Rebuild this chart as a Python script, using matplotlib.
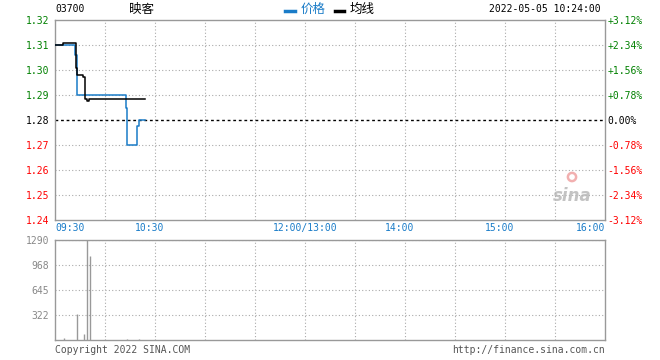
#Intraday minute chart for 03700 (映客), price + average line on top, volume below
import matplotlib
matplotlib.use('Agg')
import matplotlib.pyplot as plt
from matplotlib.lines import Line2D

plt.rcParams['font.family'] = ['DejaVu Sans Mono', 'Noto Sans CJK SC']

#Time in minutes since 09:30 with the lunch break cut out (330 minutes in a day)
price_t = [0, 12, 13, 42.6, 43.4, 49.4, 50.6, 54]
price_v = [1.31, 1.306, 1.29, 1.285, 1.27, 1.2775, 1.28, 1.28]
avg_t = [0, 4.6, 12.6, 13.4, 16.6, 18.2, 19.4, 20.6, 54]
avg_v = [1.31, 1.311, 1.301, 1.298, 1.2972, 1.2883, 1.2878, 1.2886, 1.2886]
vol_t = [5.6, 13.4, 17.6, 19.4, 21.2, 43.4, 50.6]
vol_v = [30, 340, 80, 1290, 1090, 12, 12]

prev_close = 1.28
price_ticks = [1.32, 1.31, 1.30, 1.29, 1.28, 1.27, 1.26, 1.25, 1.24]
pct_labels = ['+3.12%', '+2.34%', '+1.56%', '+0.78%', '0.00%',
              '-0.78%', '-1.56%', '-2.34%', '-3.12%']
vol_ticks = [1290, 968, 645, 322]
time_labels = ['09:30', '10:30', '12:00/13:00', '14:00', '15:00', '16:00']
time_pos = [0, 60, 150, 210, 270, 330]

blue = '#1a7cc8'
green = '#008000'
red = '#ff0000'
gridc = '#aaaaaa'
border = '#999999'
W, H = 660, 360

def frac(x0, y0, w, h):
    #pixel box (top-left origin) to figure fraction
    return [x0 / W, 1 - (y0 + h) / H, w / W, h / H]

fig = plt.figure(figsize=(6.6, 3.6), dpi=100)
ax1 = fig.add_axes(frac(55, 20, 550, 200))
ax2 = fig.add_axes(frac(55, 240, 550, 100))

for ax in (ax1, ax2):
    ax.set_xlim(0, 330)
    for s in ax.spines.values():
        s.set_color(border)
        s.set_linewidth(1)
    ax.set_xticks(range(30, 330, 30))
    ax.set_xticklabels([])
    ax.tick_params(length=0, labelsize=7)
    ax.grid(axis='x', color=gridc, linestyle=(0, (1, 2)), lw=0.8)

#Price panel
ax1.set_ylim(1.24, 1.32)
ax1.set_yticks(price_ticks)
ax1.set_yticklabels(['%.2f' % p for p in price_ticks])
ax1.tick_params(axis='y', pad=4)
for p in price_ticks[1:-1]:
    if p != prev_close:
        ax1.axhline(p, color=gridc, linestyle=(0, (1, 2)), lw=0.8)
ax1.axhline(prev_close, color='black', linestyle=(0, (2, 2)), lw=1)

def col(p):
    if p > prev_close + 1e-9:
        return green
    if p < prev_close - 1e-9:
        return red
    return 'black'

for lbl, p in zip(ax1.get_yticklabels(), price_ticks):
    lbl.set_color(col(p))

axr = ax1.twinx()
axr.set_ylim(1.24, 1.32)
axr.set_yticks(price_ticks)
axr.set_yticklabels(pct_labels)
axr.tick_params(length=0, labelsize=7, pad=2)
for s in axr.spines.values():
    s.set_visible(False)
for lbl, p in zip(axr.get_yticklabels(), price_ticks):
    lbl.set_color(col(p))

ax1.plot(price_t, price_v, drawstyle='steps-post', color=blue, lw=1.1, zorder=3)
ax1.plot(avg_t, avg_v, drawstyle='steps-post', color='black', lw=1.1, zorder=4)

#Time labels under the price panel
offs = [0, -5, 0, -5, -5, 0]
has = ['left', 'center', 'center', 'center', 'center', 'right']
for t, lbl, dx, ha in zip(time_pos, time_labels, offs, has):
    ax1.annotate(lbl, xy=(t, 0), xycoords=('data', 'axes fraction'),
                 xytext=(dx, -8), textcoords='offset pixels',
                 ha=ha, va='center', color=blue, fontsize=7)

#sina watermark
ax1.text(0.975, 0.12, 'sina', transform=ax1.transAxes, ha='right', va='center',
         fontsize=12, fontweight='bold', style='italic', color='#b5b5b5',
         family='DejaVu Sans', alpha=0.8)
ax1.scatter([0.94], [0.215], transform=ax1.transAxes, s=35, facecolor='none',
            edgecolor='#f2b0b0', lw=1.8)

#Volume panel
ax2.set_ylim(0, 1290)
ax2.set_yticks(vol_ticks)
ax2.set_yticklabels([str(v) for v in vol_ticks], color='#888888')
ax2.tick_params(axis='y', pad=4)
ax2.grid(axis='y', color=gridc, linestyle=(0, (1, 2)), lw=0.8)
ax2.vlines(vol_t, 0, vol_v, color='#999999', lw=1)

#Header
fig.text(55 / W, 1 - 9 / H, '03700', fontsize=7, va='center')
fig.text(129 / W, 1 - 9 / H, '映客', fontsize=9, va='center')
fig.add_artist(Line2D([285 / W, 295 / W], [1 - 10.5 / H] * 2, color=blue, lw=2.5))
fig.text(301 / W, 1 - 9 / H, '价格', fontsize=9, va='center', color=blue)
fig.add_artist(Line2D([335 / W, 344 / W], [1 - 11 / H] * 2, color='black', lw=2.5))
fig.text(350 / W, 1 - 9 / H, '均线', fontsize=9, va='center')
fig.text(601 / W, 1 - 9 / H, '2022-05-05 10:24:00', fontsize=7, va='center', ha='right')

#Footer
fig.text(55 / W, 1 - 350 / H, 'Copyright 2022 SINA.COM', fontsize=7, va='center', color='#555555')
fig.text(605 / W, 1 - 350 / H, 'http://finance.sina.com.cn', fontsize=7, va='center',
         ha='right', color='#555555')

fig.savefig('out.png', dpi=100)
